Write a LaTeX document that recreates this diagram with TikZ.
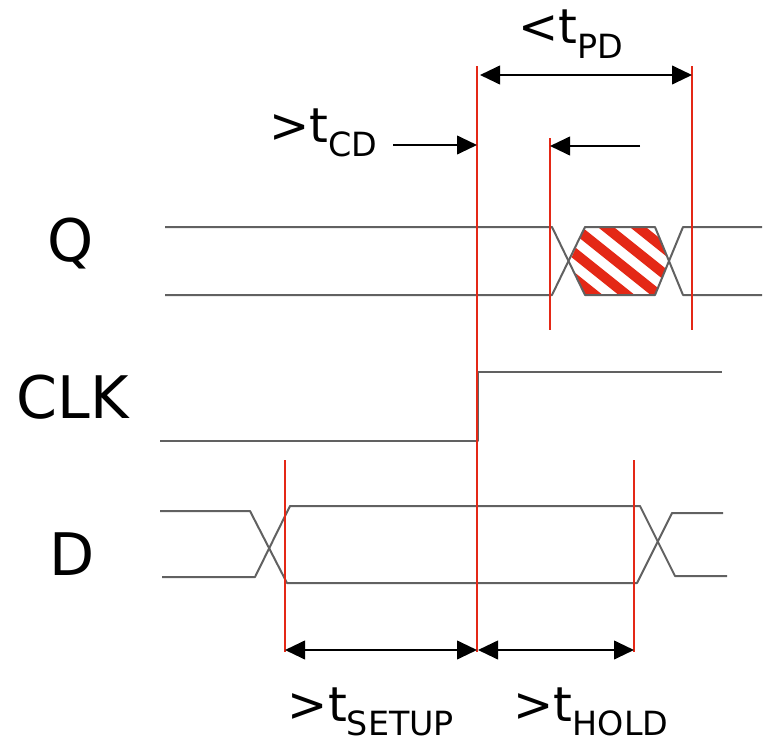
\documentclass[tikz,border=0pt]{standalone}
\usepackage{fontspec}
\setmainfont{DejaVu Sans}
\usetikzlibrary{arrows.meta}
\newcommand{\tsub}[1]{\raisebox{-0.3em}{\fontsize{25}{28}\selectfont #1}}
\definecolor{markred}{RGB}{228,40,22}
\tikzset{
  sigline/.style={draw=black!62, line width=1.5pt, line join=round},
  edgeline/.style={draw=markred, line width=1.5pt},
  dimarrow/.style={draw=black, line width=1.5pt},
  siglabel/.style={font=\fontsize{44}{48}\selectfont, inner sep=0pt},
  timelabel/.style={font=\fontsize{36}{40}\selectfont, inner sep=0pt},
}

\begin{document}
\begin{tikzpicture}[x=0.75pt, y=-0.75pt, >={Triangle[length=15pt, width=14pt]}]
  \useasboundingbox (0,0) rectangle (768,746);
  % signal names
  \node[siglabel] (q)   at (71,244)  {Q};
  \node[siglabel] (clk) at (73,397)  {CLK};
  \node[siglabel] (d)   at (72,554)  {D};
  % Q: output, unknown while it changes
  \begin{scope}
    \clip (585,227) -- (655,227) -- (669,261) -- (655,295) -- (585,295) -- (570,261) -- cycle;
    \foreach \s in {380,412,...,700}
      \draw[markred, line width=7.5pt] (\s,200) -- ++(150,120);
  \end{scope}
  \draw[sigline] (165,227) -- (552,227) -- (585,295) -- (655,295) -- (683,227) -- (762,227);
  \draw[sigline] (165,295) -- (552,295) -- (585,227) -- (655,227) -- (683,295) -- (762,295);
  % CLK: rising edge
  \draw[sigline] (160,441) -- (478,441) -- (478,372) -- (722,372);
  % D: data, stable around the edge
  \draw[sigline] (160,511) -- (250,511) -- (287,583) -- (637,583) -- (672,513) -- (723,513);
  \draw[sigline] (162,577) -- (255,577) -- (290,506) -- (640,506) -- (675,576) -- (727,576);
  % red timing marks
  \coordinate (edge top) at (477,66);
  \coordinate (edge bot) at (477,652);
  \coordinate (pd top)   at (692,66);
  \coordinate (pd bot)   at (692,330);
  \coordinate (cd top)   at (550,138);
  \coordinate (cd bot)   at (550,330);
  \coordinate (su top)   at (285,460);
  \coordinate (su bot)   at (285,652);
  \coordinate (ho top)   at (634,460);
  \coordinate (ho bot)   at (634,652);
  \foreach \m in {edge,pd,cd,su,ho}
    \draw[edgeline] (\m\space top) -- (\m\space bot);
  % dimension arrows
  \coordinate (pd l) at (480,75);
  \coordinate (pd r) at (692,75);
  \coordinate (cd l) at (393,145);
  \coordinate (cd r) at (477,145);
  \coordinate (qm r) at (640,146);
  \coordinate (qm l) at (550,146);
  \coordinate (su l) at (285,650);
  \coordinate (su r) at (477,650);
  \coordinate (ho l) at (478,650);
  \coordinate (ho r) at (634,650);
  \draw[dimarrow, <->] (pd l) -- (pd r);
  \draw[dimarrow, ->] (cd l) -- (cd r);
  \draw[dimarrow, ->] (qm r) -- (qm l);
  \draw[dimarrow, <->] (su l) -- (su r);
  \draw[dimarrow, <->] (ho l) -- (ho r);
  % timing labels
  \node[timelabel] (tpd)    at (571,34)  {<t\tsub{PD}};
  \node[timelabel] (tcd)    at (323,133) {>t\tsub{CD}};
  \node[timelabel] (tsetup) at (371,712) {>t\tsub{SETUP}};
  \node[timelabel] (thold)  at (591,712) {>t\tsub{HOLD}};
\end{tikzpicture}
\end{document}
